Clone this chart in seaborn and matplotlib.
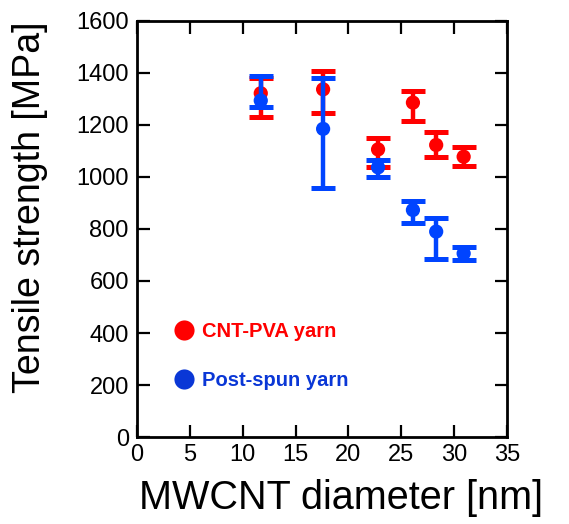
import numpy as np
import pandas as pd
import matplotlib
matplotlib.use("Agg")
import matplotlib.pyplot as plt
import seaborn as sns
from matplotlib.lines import Line2D

# ---- data ----
diameter = [11.7, 17.6, 22.8, 26.1, 28.3, 30.9]
pva_strength = [1322, 1337, 1106, 1286, 1123, 1078]
pva_err_low = [92, 92, 66, 71, 45, 35]
pva_err_high = [57, 71, 43, 45, 51, 36]
post_strength = [1294, 1185, 1037, 873, 790, 706]
post_err_low = [24, 228, 36, 51, 105, 25]
post_err_high = [94, 194, 28, 36, 54, 24]
series_names = ["CNT-PVA yarn", "Post-spun yarn"]
xticks = [0, 5, 10, 15, 20, 25, 30, 35]
yticks = [0, 200, 400, 600, 800, 1000, 1200, 1400, 1600]

RED = "#ff0000"
BLUE = "#0044ff"
BLUE_TXT = "#0a37d6"

sns.set_theme(style="ticks")
plt.rcParams["font.family"] = ["Liberation Sans", "DejaVu Sans"]

df = pd.DataFrame({
    "d": diameter * 2,
    "s": pva_strength + post_strength,
    "yarn": [series_names[0]] * 6 + [series_names[1]] * 6,
})

fig = plt.figure(figsize=(5.69, 5.24), dpi=100)
ax = fig.add_axes([0.241, 0.166, 0.650, 0.794])

# red series
ax.errorbar(diameter, pva_strength, yerr=[pva_err_low, pva_err_high], fmt="none",
            ecolor=RED, elinewidth=3.2, capsize=8.3, capthick=3.6, zorder=2)
sns.scatterplot(data=df[df.yarn == series_names[0]], x="d", y="s", color=RED, s=105,
                edgecolor="none", ax=ax, zorder=3, legend=False)
# blue series
ax.errorbar(diameter, post_strength, yerr=[post_err_low, post_err_high], fmt="none",
            ecolor=BLUE, elinewidth=3.2, capsize=8.3, capthick=3.6, zorder=4)
sns.scatterplot(data=df[df.yarn == series_names[1]], x="d", y="s", color=BLUE, s=105,
                edgecolor="none", ax=ax, zorder=5, legend=False)

ax.set_xlim(0, 35)
ax.set_ylim(0, 1600)
ax.set_xticks(xticks)
ax.set_yticks(yticks)
ax.tick_params(direction="in", length=9, width=1.6, top=True, right=True,
               labelsize=17, colors="black")
ax.tick_params(axis="x", labeltop=False, pad=5)
ax.tick_params(axis="y", labelright=False, pad=6)
for sp in ax.spines.values():
    sp.set_visible(True)
    sp.set_linewidth(2)
    sp.set_color("black")

ax.set_xlabel("MWCNT diameter [nm]", fontsize=28.5, color="black")
ax.set_ylabel("Tensile strength [MPa]", fontsize=27, color="black")
ax.xaxis.set_label_coords(0.551, -0.10)
ax.yaxis.set_label_coords(-0.24, 0.553)

handles = [Line2D([], [], marker="o", linestyle="none", markersize=14.5,
                  markerfacecolor=RED, markeredgecolor="none"),
           Line2D([], [], marker="o", linestyle="none", markersize=14.5,
                  markerfacecolor=BLUE_TXT, markeredgecolor="none")]
leg = ax.legend(handles, series_names, loc="center left", bbox_to_anchor=(0.037, 0.195),
                frameon=False, handletextpad=0.15, labelspacing=1.5, handlelength=1.5,
                prop={"size": 14.5, "weight": "bold"})
leg.get_texts()[0].set_color(RED)
leg.get_texts()[1].set_color(BLUE_TXT)

fig.savefig("out.png", dpi=100)
